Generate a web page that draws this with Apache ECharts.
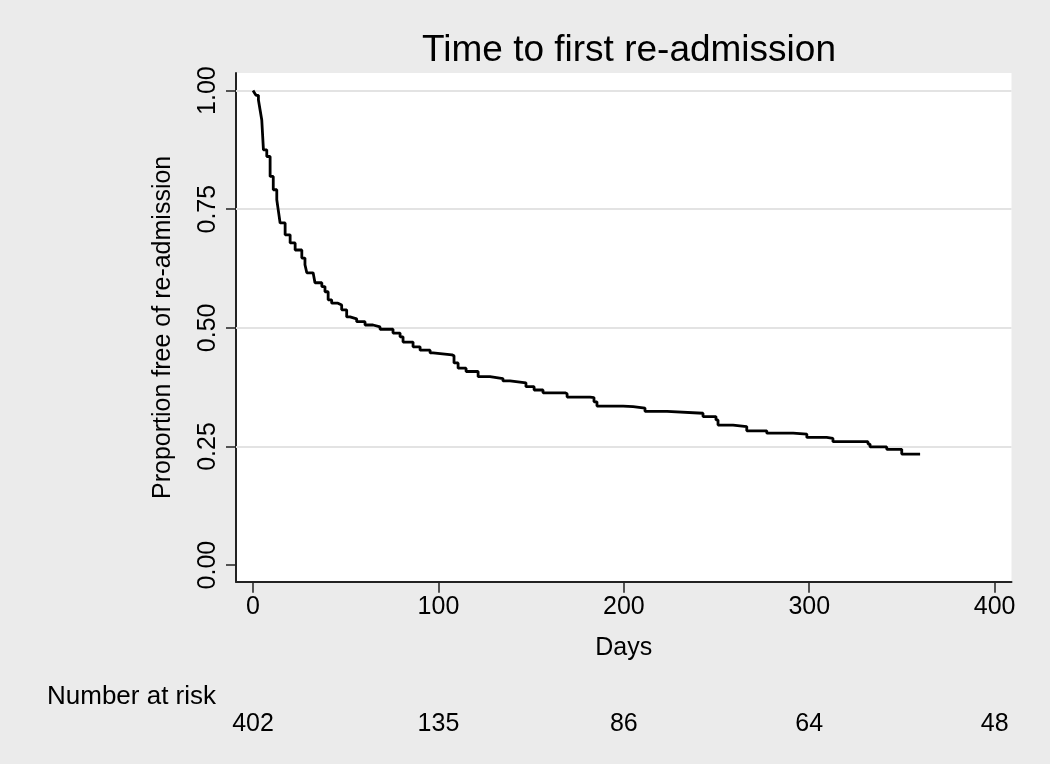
<!DOCTYPE html>
<html>
<head>
<meta charset="utf-8">
<script src="https://cdn.jsdelivr.net/npm/echarts@6/dist/echarts.min.js"></script>
<style>
html,body{margin:0;padding:0;background:#ebebeb;}
#chart{width:1050px;height:764px;}
</style>
</head>
<body>
<div id="chart"></div>
<script>
// Kaplan-Meier estimate: [day, proportion free of re-admission]
const kmDays = [0, 0.8, 1.6, 2.9, 3.8, 4.7, 5.6, 7.4, 9.2, 10.9, 12.8, 13.6, 14.6, 17.3, 20.0, 22.7, 26.3, 28.0, 29.0, 32.4, 33.4, 37.1, 38.8, 40.5, 42.4, 45.8, 47.8, 50.5, 52.3, 55.9, 60.4, 64.7, 68.5, 75.5, 79.3, 80.9, 86.3, 90.1, 95.5, 97.1, 107.3, 108.4, 110.6, 114.9, 121.4, 127.8, 134.8, 138.6, 147.2, 151.6, 156.4, 168.3, 169.4, 181.8, 183.9, 185.5, 199.6, 205.0, 211.4, 223.3, 242.7, 249.7, 250.8, 258.9, 266.3, 277.1, 291.3, 298.7, 309.4, 312.8, 331.7, 332.8, 341.8, 349.9, 359.8];
const kmSurv = [1.000, 0.995, 0.990, 0.980, 0.959, 0.938, 0.875, 0.861, 0.819, 0.791, 0.770, 0.748, 0.721, 0.696, 0.679, 0.664, 0.647, 0.633, 0.616, 0.612, 0.595, 0.587, 0.576, 0.559, 0.552, 0.548, 0.538, 0.523, 0.519, 0.513, 0.506, 0.502, 0.497, 0.489, 0.481, 0.470, 0.460, 0.453, 0.447, 0.443, 0.441, 0.426, 0.415, 0.408, 0.397, 0.393, 0.388, 0.384, 0.376, 0.369, 0.363, 0.361, 0.354, 0.353, 0.344, 0.335, 0.334, 0.331, 0.324, 0.320, 0.313, 0.306, 0.295, 0.292, 0.283, 0.278, 0.276, 0.269, 0.267, 0.260, 0.255, 0.249, 0.244, 0.234, 0.234];
const xTicks = [0, 100, 200, 300, 400];
const yTicks = [0, 0.25, 0.5, 0.75, 1];
const yTickLabels = ['0.00', '0.25', '0.50', '0.75', '1.00'];
const gridVals = [0.25, 0.5, 0.75, 1];
const riskTimes = [0, 100, 200, 300, 400];
const riskCounts = [402, 135, 86, 64, 48];

const FONT = 'Liberation Sans, Arial, Helvetica, sans-serif';
const chart = echarts.init(document.getElementById('chart'));
const kmData = kmDays.map((d, i) => [d, kmSurv[i]]);

chart.setOption({
  backgroundColor: '#ebebeb',
  animation: false,
  title: [
    { text: 'Time to first re-admission', left: 624, top: 27, textAlign: 'center',
      textStyle: { fontFamily: FONT, fontSize: 37, fontWeight: 'normal', color: '#000' } },
    { text: 'Number at risk', left: 42, top: 679,
      textStyle: { fontFamily: FONT, fontSize: 26, fontWeight: 'normal', color: '#000' } }
  ],
  grid: { left: 236, right: 38.5, top: 73, bottom: 182.3, show: true, backgroundColor: '#ffffff', borderWidth: 0 },
  xAxis: [
    {
      type: 'value', min: -9.2, max: 409.1,
      name: 'Days', nameLocation: 'middle', nameGap: 54,
      nameTextStyle: { fontFamily: FONT, fontSize: 25, color: '#000' },
      axisLine: { show: true, onZero: false, lineStyle: { color: '#222', width: 2 } },
      axisTick: { show: true, length: 11, customValues: xTicks, lineStyle: { color: '#222', width: 1.5 } },
      axisLabel: { customValues: xTicks, margin: 13, fontFamily: FONT, fontSize: 25, color: '#000' },
      splitLine: { show: false }
    },
    {
      type: 'value', min: -9.2, max: 409.1, position: 'bottom', offset: 117,
      axisLine: { show: false }, axisTick: { show: false }, splitLine: { show: false },
      axisLabel: { customValues: riskTimes, margin: 13, fontFamily: FONT, fontSize: 25, color: '#000',
        formatter: v => String(riskCounts[riskTimes.indexOf(v)]) }
    }
  ],
  yAxis: {
    type: 'value', min: -0.035, max: 1.037,
    name: 'Proportion free of re-admission', nameLocation: 'middle', nameGap: 60,
    nameTextStyle: { fontFamily: FONT, fontSize: 25, color: '#000' },
    axisLine: { show: true, onZero: false, lineStyle: { color: '#222', width: 2 } },
    axisTick: { show: true, length: 10, customValues: yTicks, lineStyle: { color: '#222', width: 1.5 } },
    axisLabel: { customValues: yTicks, rotate: 90, margin: 15, fontFamily: FONT, fontSize: 25, color: '#000',
      formatter: v => yTickLabels[yTicks.indexOf(v)] },
    splitLine: { show: false }
  },
  series: [
    {
      type: 'line', data: [], z: 1, silent: true,
      markLine: { silent: true, z: 1, symbol: 'none', label: { show: false },
        lineStyle: { color: '#e3e3e3', width: 2, type: 'solid' },
        data: gridVals.map(v => ({ yAxis: v })) }
    },
    {
      type: 'line', data: kmData, step: 'end', showSymbol: false, z: 3,
      lineStyle: { color: '#000', width: 2.8 }
    }
  ]
});
</script>
</body>
</html>
